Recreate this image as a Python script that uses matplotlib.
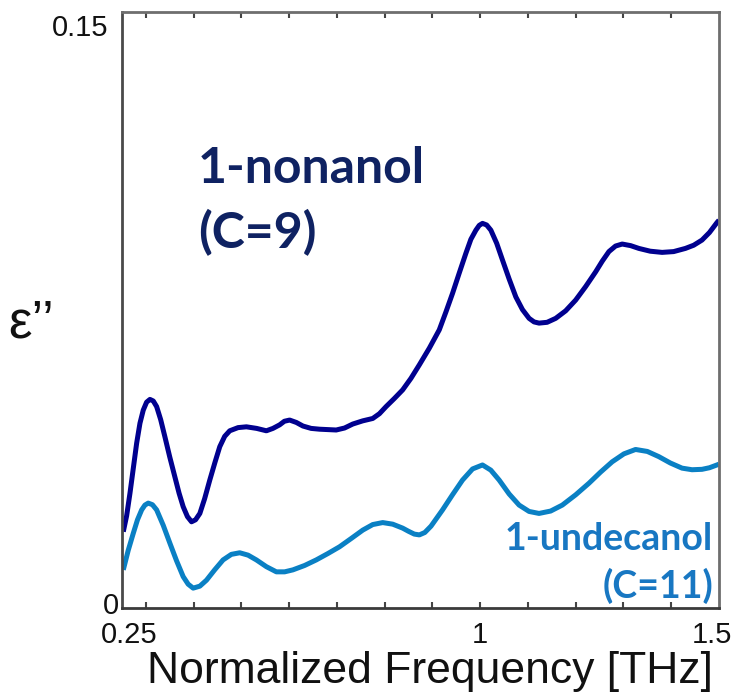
import numpy as np
import matplotlib.pyplot as plt

# dielectric loss spectra of two long-chain alcohols
freq_nonanol = [0.2527, 0.2597, 0.2667, 0.2737, 0.2807, 0.2876, 0.2945, 0.3015, 0.3085, 0.3155,
                0.3225, 0.3310, 0.3398, 0.3500, 0.3607, 0.3695, 0.3781, 0.3870, 0.3956, 0.4040,
                0.4130, 0.4230, 0.4338, 0.4445, 0.4547, 0.4650, 0.4756, 0.4930, 0.5105, 0.5320,
                0.5523, 0.5660, 0.5801, 0.5900, 0.6010, 0.6150, 0.6288, 0.6460, 0.6637, 0.6985,
                0.7160, 0.7332, 0.7540, 0.7750, 0.7890, 0.8030, 0.8200, 0.8377, 0.8550, 0.8726,
                0.8935, 0.9143, 0.9282, 0.9421, 0.9561, 0.9701, 0.9805, 0.9910, 0.9980, 1.0048,
                1.0135, 1.0223, 1.0345, 1.0466, 1.0606, 1.0746, 1.0885, 1.1024, 1.1128, 1.1232,
                1.1400, 1.1581, 1.1790, 1.1999, 1.2208, 1.2417, 1.2556, 1.2695, 1.2834, 1.2973,
                1.3150, 1.3322, 1.3560, 1.3809, 1.4050, 1.4297, 1.4470, 1.4644, 1.4800, 1.4957,
                1.5000]
eps_nonanol = [0.0192, 0.0232, 0.0289, 0.0352, 0.0415, 0.0465, 0.0498, 0.0518, 0.0525, 0.0521,
               0.0507, 0.0474, 0.0431, 0.0380, 0.0330, 0.0289, 0.0255, 0.0230, 0.0217, 0.0222,
               0.0238, 0.0275, 0.0322, 0.0366, 0.0406, 0.0432, 0.0446, 0.0454, 0.0456, 0.0452,
               0.0446, 0.0452, 0.0461, 0.0470, 0.0473, 0.0467, 0.0458, 0.0452, 0.0450, 0.0448,
               0.0453, 0.0463, 0.0471, 0.0477, 0.0489, 0.0507, 0.0527, 0.0549, 0.0578, 0.0612,
               0.0654, 0.0700, 0.0745, 0.0792, 0.0843, 0.0893, 0.0928, 0.0951, 0.0963, 0.0968,
               0.0964, 0.0951, 0.0918, 0.0876, 0.0828, 0.0783, 0.0751, 0.0729, 0.0720, 0.0717,
               0.0719, 0.0729, 0.0748, 0.0775, 0.0809, 0.0846, 0.0873, 0.0897, 0.0911, 0.0916,
               0.0912, 0.0905, 0.0898, 0.0895, 0.0897, 0.0905, 0.0913, 0.0926, 0.0945, 0.0970,
               0.0976]

freq_undecanol = [0.2527, 0.2630, 0.2736, 0.2824, 0.2912, 0.2980, 0.3049, 0.3137, 0.3225, 0.3364,
                  0.3503, 0.3642, 0.3781, 0.3885, 0.3990, 0.4130, 0.4269, 0.4440, 0.4616, 0.4790,
                  0.4965, 0.5140, 0.5314, 0.5523, 0.5732, 0.5905, 0.6079, 0.6323, 0.6567, 0.6810,
                  0.7054, 0.7300, 0.7541, 0.7750, 0.7959, 0.8168, 0.8377, 0.8500, 0.8620, 0.8726,
                  0.8840, 0.8970, 0.9212, 0.9420, 0.9630, 0.9840, 1.0048, 1.0222, 1.0397, 1.0606,
                  1.0815, 1.1024, 1.1232, 1.1475, 1.1719, 1.2000, 1.2277, 1.2520, 1.2764, 1.3010,
                  1.3253, 1.3500, 1.3739, 1.3980, 1.4226, 1.4435, 1.4644, 1.4800, 1.4957, 1.5000]
eps_undecanol = [0.0096, 0.0145, 0.0188, 0.0222, 0.0247, 0.0259, 0.0264, 0.0260, 0.0247, 0.0208,
                 0.0163, 0.0119, 0.0079, 0.0060, 0.0050, 0.0055, 0.0070, 0.0096, 0.0121, 0.0135,
                 0.0139, 0.0133, 0.0121, 0.0104, 0.0091, 0.0091, 0.0096, 0.0107, 0.0121, 0.0137,
                 0.0154, 0.0175, 0.0196, 0.0210, 0.0215, 0.0211, 0.0201, 0.0193, 0.0186, 0.0184,
                 0.0190, 0.0206, 0.0247, 0.0285, 0.0322, 0.0350, 0.0360, 0.0347, 0.0322, 0.0287,
                 0.0259, 0.0243, 0.0238, 0.0244, 0.0259, 0.0285, 0.0314, 0.0342, 0.0368, 0.0388,
                 0.0399, 0.0394, 0.0381, 0.0365, 0.0352, 0.0348, 0.0349, 0.0353, 0.0360, 0.0362]

navy = '#00008f'
sky = '#0a80c4'

fig = plt.figure(figsize=(7.32, 6.97), dpi=100)
ax = fig.add_axes([122 / 732, 89 / 697, 597 / 732, 596 / 697])

ax.plot(freq_nonanol, eps_nonanol, color=navy, lw=3.6, solid_joinstyle='round',
        solid_capstyle='butt')
ax.plot(freq_undecanol, eps_undecanol, color=sky, lw=3.6, solid_joinstyle='round',
        solid_capstyle='butt')

ax.set_xlim(0.25, 1.5)
ax.set_ylim(0, 0.15)
ax.set_xticks(np.round(np.arange(0.3, 1.45, 0.1), 2))
ax.set_yticks([])
ax.tick_params(axis='x', direction='in', length=4, width=1.5, color='#444444',
               top=True, labelbottom=False)
for s in ax.spines.values():
    s.set_color('#6e6e6e')
    s.set_linewidth(2)
ax.spines['bottom'].set_color('#3a3a3a')
ax.spines['left'].set_color('#4a4a4a')


def px_text(x, y, s, **kw):
    fig.text(x / 732, 1 - y / 697, s, **kw)


lab = dict(family='Liberation Sans', color='#111111')
# tick labels
px_text(108, 28, '0.15', fontsize=21, ha='right', va='center', **lab)
px_text(119, 606, '0', fontsize=21, ha='right', va='center', **lab)
px_text(129, 635, '0.25', fontsize=21, ha='center', va='center', **lab)
px_text(480, 635, '1', fontsize=21, ha='center', va='center', **lab)
px_text(712, 635, '1.5', fontsize=21, ha='center', va='center', **lab)

# axis labels
px_text(430, 672, 'Normalized Frequency [THz]', fontsize=32, ha='center', va='center', **lab)
px_text(8, 337, 'ε’’', fontsize=38, ha='left', va='baseline', **lab)

# curve annotations
ann = dict(family='Lato', weight='bold')
px_text(198, 183, '1-nonanol', fontsize=36, ha='left', va='baseline', color='#0f2262', **ann)
px_text(198, 248, '(C=9)', fontsize=36, ha='left', va='baseline', color='#0f2262', **ann)
px_text(713, 550, '1-undecanol', fontsize=27, ha='right', va='baseline', color='#1877c2', **ann)
px_text(713, 598, '(C=11)', fontsize=27, ha='right', va='baseline', color='#1877c2', **ann)

fig.savefig('out.png', dpi=100)
